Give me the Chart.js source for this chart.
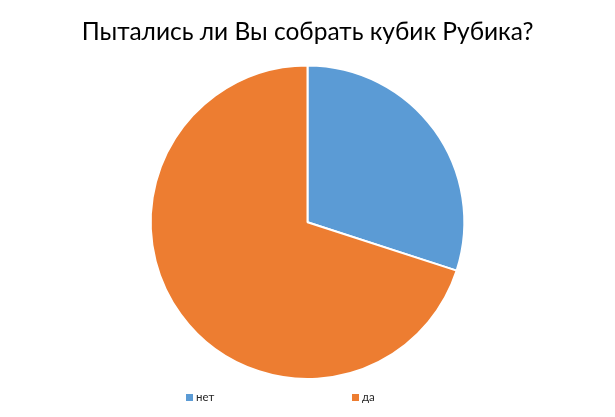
<!DOCTYPE html>
<html>
<head>
<meta charset="utf-8">
<script src="https://cdn.jsdelivr.net/npm/chart.js@4"></script>
<style>
  html, body { margin: 0; padding: 0; background: #fff; }
  #wrap { width: 615px; height: 417px; }
</style>
</head>
<body>
<div id="wrap"><canvas id="chart" width="615" height="417"></canvas></div>
<script>
const categories = ['нет', 'да'];
const answers = [30, 70];
const sliceColors = ['#5B9BD5', '#ED7D31'];

// legend is drawn by hand so the items sit where the original put them
const legendX = [186, 352];
const bottomLegend = {
  id: 'bottomLegend',
  afterDraw(chart) {
    const ctx = chart.ctx;
    const colors = chart.data.datasets[0].backgroundColor;
    ctx.save();
    ctx.font = '11.5px Lato';
    ctx.textBaseline = 'middle';
    chart.data.labels.forEach((label, i) => {
      ctx.fillStyle = colors[i];
      ctx.fillRect(legendX[i], 394, 7, 7);
      ctx.fillStyle = '#262626';
      ctx.fillText(label, legendX[i] + 10, 397.5);
    });
    ctx.restore();
  }
};

new Chart(document.getElementById('chart'), {
  type: 'pie',
  data: {
    labels: categories,
    datasets: [{
      data: answers,
      backgroundColor: sliceColors,
      borderColor: '#ffffff',
      borderWidth: 2
    }]
  },
  options: {
    responsive: false,
    animation: false,
    layout: { padding: { bottom: 37 } },
    plugins: {
      legend: { display: false },
      tooltip: { enabled: false },
      title: {
        display: true,
        text: 'Пытались ли Вы собрать кубик Рубика?',
        color: '#000000',
        font: { family: 'Lato', size: 24.5, weight: 'normal', lineHeight: 1.2 },
        padding: { top: 17, bottom: 18 }
      }
    }
  },
  plugins: [bottomLegend]
});
</script>
</body>
</html>
